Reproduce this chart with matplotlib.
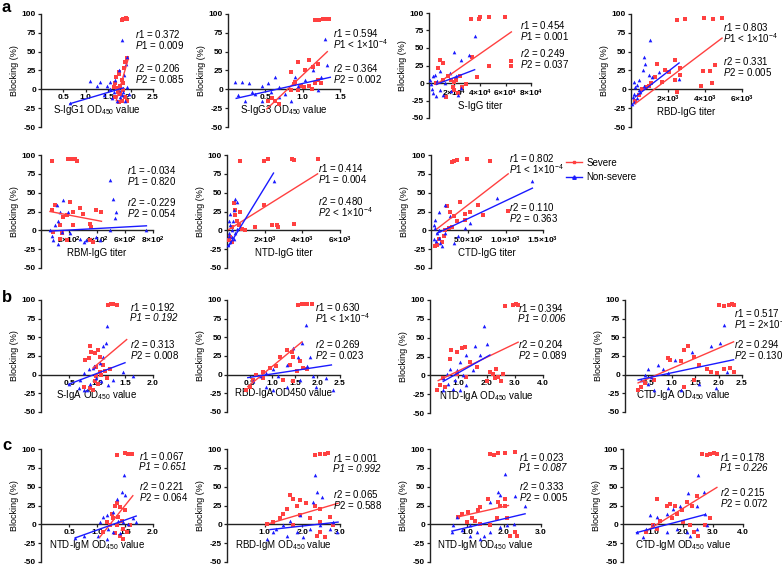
import matplotlib
matplotlib.use("Agg")
import matplotlib.pyplot as plt
from matplotlib.lines import Line2D

W, H = 782, 565
RED = "#ff4040"
BLUE = "#1a1aff"

plt.rcParams["font.family"] = ["Liberation Sans", "DejaVu Sans"]
plt.rcParams["mathtext.fontset"] = "custom"
plt.rcParams["mathtext.rm"] = "Liberation Sans"
plt.rcParams["mathtext.it"] = "Liberation Sans:italic"
plt.rcParams["mathtext.bf"] = "Liberation Sans:bold"
plt.rcParams["mathtext.default"] = "regular"

# ---------------- data ----------------
# panel a1: S-IgG1
p1_red_x = [1.80, 1.83, 1.86, 1.89, 1.91, 1.73, 1.88, 1.93, 1.80, 1.66, 1.69, 1.77, 1.84, 1.88, 1.66, 1.73, 1.80, 1.92, 1.77, 1.62, 1.86, 1.68, 1.75, 1.82, 1.71]
p1_red_y = [92, 93, 94, 95, 94, 23, 36, 41, 12, 8, 2, 5, -1, -10, -10, -17, -15, -15, -6, 3, 28, 16, 20, 9, -3]
p1_blue_x = [1.80, 1.92, 1.90, 1.10, 1.32, 1.54, 1.47, 1.25, 1.66, 1.73, 1.77, 1.69, 1.88, 1.80, 1.62, 1.96, 1.92, 1.40, 1.54, 1.86, 1.73, 0.65, 1.58, 1.83]
p1_blue_y = [66, 43, 34, 11, 10, 10, 5, 4, 12, -1, -10, -15, -15, -8, -4, -6, 3, -8, 1, 19, 25, -18, -12, -3]
p1_red_fit = [(1.68, -15), (1.94, 39)]
p1_blue_fit = [(0.65, -19), (1.84, 2)]
p1_stats = [r"$\mathit{r1}$ = 0.372", r"$\mathit{P1}$ = 0.009", r"$\mathit{r2}$ = 0.206", r"$\mathit{P2}$ = 0.085"]

# panel a2: S-IgG3
p2_red_x = [1.17, 1.22, 1.27, 1.31, 1.35, 0.85, 0.94, 1.08, 1.03, 1.14, 1.21, 0.90, 0.98, 1.08, 1.16, 1.12, 0.85, 0.54, 0.59, 0.63, 0.68, 1.21, 1.25, 0.94, 1.02, 0.88]
p2_red_y = [92, 92, 93, 94, 93, 23, 36, 39, 25, 30, 34, 10, 5, 5, 8, 1, -1, -15, -12, -15, -19, 12, 8, -1, 3, 7]
p2_blue_x = [0.10, 0.19, 0.28, 0.14, 0.23, 0.36, 0.45, 0.54, 0.63, 0.68, 0.77, 0.85, 0.94, 1.03, 1.25, 1.30, 1.32, 1.14, 1.21, 0.68, 0.90, 0.45, 0.32, 0.58]
p2_blue_y = [10, 10, 8, -8, -15, -6, 5, 8, 16, 3, -6, -15, 5, 12, 16, 67, 32, 25, -1, -10, 16, -15, -3, -4]
p2_red_fit = [(0.52, -26), (1.33, 50)]
p2_blue_fit = [(0.11, -12), (1.37, 16)]
p2_stats = [r"$\mathit{r1}$ = 0.594", r"$\mathit{P1}$ < 1×10$^{-4}$", r"$\mathit{r2}$ = 0.364", r"$\mathit{P2}$ = 0.002"]

# panel a3: S-IgG titer
p3_red_x = [32700, 39700, 39000, 46800, 59900, 46800, 64600, 64600, 37600, 34000, 7000, 8400, 11000, 15000, 17500, 18800, 20000, 22700, 13600, 21400, 24000, 29300, 5750, 11000, 19500, 26000]
p3_red_y = [92, 94, 92, 95, 95, 25, 32, 25, 8, 37, 21, 33, 29, 10, 5, -5, -10, -14, -20, 5, 10, -2, 0, 5, 2, -6]
p3_blue_x = [35800, 20000, 31000, 25400, 8400, 3100, 1800, 3100, 5750, 8400, 12300, 16200, 21400, 25400, 22700, 1000, 4400, 17500, 11000, 6500, 2200]
p3_blue_y = [67, 44, 40, 33, 17, 10, -2, -14, -19, -10, 0, 14, 10, -7, -17, 5, 12, -12, -17, 3, -8]
p3_red_fit = [(5750, -2), (64600, 73)]
p3_blue_fit = [(5750, -2), (35800, 19)]
p3_stats = [r"$\mathit{r1}$ = 0.454", r"$\mathit{P1}$ = 0.001", r"$\mathit{r2}$ = 0.249", r"$\mathit{P2}$ = 0.037"]

# panel a4: RBD-IgG titer
p4_red_x = [2490, 2940, 3930, 4430, 4920, 4520, 3900, 4250, 4380, 3780, 2400, 2670, 2400, 1860, 1400, 1320, 950, 600, 410, 230, 1680, 2670, 2490, 2040, 800, 1100]
p4_red_y = [92, 93, 95, 93, 95, 32, 24, 24, 8, 4, 12, 28, 39, 25, 34, 16, 5, 1, -8, -15, 10, 19, -4, 23, 3, 8]
p4_blue_x = [1050, 680, 770, 630, 950, 410, 140, 230, 140, 140, 320, 500, 1140, 2580, 680, 50, 410, 1500, 300, 90]
p4_blue_y = [66, 43, 34, 25, 19, 12, 10, 3, -6, -17, -12, -4, 16, 14, 5, -19, -1, 23, 6, -10]
p4_red_fit = [(230, -19), (4920, 68)]
p4_blue_fit = [(230, -10), (2600, 35)]
p4_stats = [r"$\mathit{r1}$ = 0.803", r"$\mathit{P1}$ < 1×10$^{-4}$", r"$\mathit{r2}$ = 0.331", r"$\mathit{P2}$ = 0.005"]

# panel a5: RBM-IgG titer
p5_red_x = [81, 195, 218, 242, 254, 76, 100, 160, 135, 183, 206, 230, 278, 302, 349, 396, 432, 360, 135, 183, 147, 88, 349, 373, 230]
p5_red_y = [92, 95, 95, 95, 92, 27, 33, 18, 7, 20, 38, 24, 29, 22, 9, 27, 24, 4, -11, -13, -4, -2, -13, -16, 7]
p5_blue_x = [492, 511, 539, 527, 160, 112, 135, 124, 100, 64, 76, 88, 124, 206, 278, 325, 396, 420, 492, 753, 195, 150, 310]
p5_blue_y = [67, 42, 24, 16, 40, 33, 24, 13, 7, 0, -7, -13, -18, -4, -11, -13, -9, -13, 0, 0, 24, -2, -16]
p5_red_fit = [(64, 25), (432, 12)]
p5_blue_fit = [(64, -1), (753, 6)]
p5_stats = [r"$\mathit{r1}$ = -0.034", r"$\mathit{P1}$ = 0.820", r"$\mathit{r2}$ = -0.229", r"$\mathit{P2}$ = 0.054"]

# panel a6: NTD-IgG titer
p6_red_x = [710, 1980, 2200, 3440, 3560, 4810, 1940, 3560, 2650, 2380, 2730, 1500, 970, 440, 350, 530, 260, 790, 180, 260, 90, 620, 410, 700]
p6_red_y = [92, 92, 95, 95, 94, 95, 33, 9, 7, 7, 4, 4, 1, 27, 36, 13, 5, 2, -9, -16, -13, 7, 20, 24]
p6_blue_x = [2470, 440, 530, 350, 180, 90, 180, 260, 90, 180, 350, 440, 50, 300, 530, 120, 240]
p6_blue_y = [66, 42, 38, 27, 22, 13, 7, 0, -7, -16, -11, -4, -20, 13, 2, -3, -9]
p6_red_fit = [(90, 1), (4810, 75)]
p6_blue_fit = [(90, -21), (2470, 76)]
p6_stats = [r"$\mathit{r1}$ = 0.414", r"$\mathit{P1}$ = 0.004", r"$\mathit{r2}$ = 0.480", r"$\mathit{P2}$ < 1×10$^{-4}$"]

# panel a7: CTD-IgG titer
p7_red_x = [280, 310, 346, 479, 790, 382, 1034, 701, 635, 524, 457, 457, 346, 280, 235, 191, 169, 102, 80, 146, 213, 257, 58, 302]
p7_red_y = [91, 92, 94, 95, 92, 37, 26, 21, 33, 25, 22, 14, 12, 5, 3, 1, -8, -12, -19, -15, 32, 25, -21, 19]
p7_blue_x = [1358, 888, 524, 457, 191, 102, 58, 36, 58, 80, 102, 124, 146, 191, 302, 368, 257, 36, 70, 110]
p7_blue_y = [66, 43, 10, 3, 33, 25, 14, 7, 3, -4, -10, -17, -21, -4, -17, -8, 19, -12, -14, 0]
p7_red_fit = [(80, 2), (1034, 75)]
p7_blue_fit = [(80, -4), (1358, 56)]
p7_stats = [r"$\mathit{r1}$ = 0.802", r"$\mathit{P1}$ < 1×10$^{-4}$", r"$\mathit{r2}$ = 0.110", r"$\mathit{P2}$ = 0.363"]

# panel b1: S-IgA
p9_red_x = [1.20, 1.25, 1.29, 1.35, 0.88, 0.90, 0.96, 0.85, 0.79, 1.05, 1.11, 1.23, 1.05, 0.99, 0.96, 1.02, 0.93, 0.88, 0.76, 1.17, 1.08, 1.02, 1.14, 0.98]
p9_red_y = [93, 94, 95, 93, 38, 31, 29, 22, 20, 24, 13, 7, 4, -2, -9, -13, -20, -18, -16, -4, 0, 33, 5, 10]
p9_blue_x = [1.18, 1.16, 1.11, 1.11, 1.05, 0.93, 0.85, 0.76, 0.70, 0.67, 0.76, 0.88, 1.08, 1.29, 1.47, 1.64, 0.82, 0.99, 0.50, 0.95, 1.20]
p9_blue_y = [65, 42, 38, 24, 16, 9, 7, 2, -7, -18, -20, -13, -9, -7, 4, -2, -20, -4, -12, 12, -14]
p9_red_fit = [(0.93, 9), (1.53, 47)]
p9_blue_fit = [(0.49, -13), (1.50, 16)]
# a line without "$" is set fully in italics
p9_stats = [r"$\mathit{r1}$ = 0.192", "P1 = 0.192", r"$\mathit{r2}$ = 0.313", r"$\mathit{P2}$ = 0.008"]

# panel b2: RBD-IgA
p10_red_x = [1.58, 1.65, 1.70, 1.76, 1.87, 1.32, 1.43, 1.17, 1.46, 1.61, 1.39, 1.69, 1.76, 1.09, 0.95, 0.80, 0.65, 0.58, 0.50, 0.43, 1.24, 1.46, 0.80, 1.55]
p10_red_y = [93, 95, 94, 95, 94, 33, 31, 24, 24, 18, 13, 9, 7, 11, 9, 4, 0, -7, -16, -20, -7, -9, -4, 5]
p10_blue_x = [1.75, 1.65, 1.46, 1.58, 1.83, 1.32, 1.76, 1.02, 0.87, 0.72, 0.58, 0.87, 1.02, 1.32, 1.61, 1.91, 2.35, 1.98, 2.20, 1.13]
p10_blue_y = [66, 42, 36, 24, 24, 13, 11, 7, 2, -2, -9, -16, -20, -16, -7, -2, -20, -16, -4, -2]
p10_red_fit = [(0.46, -16), (1.66, 44)]
p10_blue_fit = [(0.46, -4), (2.31, 13)]
p10_stats = [r"$\mathit{r1}$ = 0.630", r"$\mathit{P1}$ < 1×10$^{-4}$", r"$\mathit{r2}$ = 0.269", r"$\mathit{P2}$ = 0.023"]

# panel b3: NTD-IgA
p11_red_x = [2.65, 2.94, 3.06, 3.12, 0.76, 0.94, 1.12, 1.24, 0.71, 1.41, 1.65, 2.12, 2.29, 2.41, 2.53, 2.59, 2.35, 0.35, 0.24, 0.47, 0.94, 0.53, 1.29, 2.00, 2.24]
p11_red_y = [92, 93, 95, 93, 33, 31, 36, 38, 22, 18, 11, 4, -4, -2, -7, 2, 9, -13, -19, -4, 2, -16, -2, -7, 2]
p11_blue_x = [1.92, 2.00, 1.59, 1.76, 1.29, 1.06, 0.94, 0.71, 0.59, 0.47, 0.65, 0.82, 1.06, 1.29, 0.47, 1.18, 1.53, 0.88]
p11_blue_y = [66, 42, 39, 27, 27, 18, 7, 9, 2, -4, -11, -18, -20, -13, -20, 0, 7, -6]
p11_red_fit = [(0.29, -7), (3.12, 44)]
p11_blue_fit = [(0.47, -8), (2.12, 27)]
p11_stats = [r"$\mathit{r1}$ = 0.394", "P1 = 0.006", r"$\mathit{r2}$ = 0.204", r"$\mathit{P2}$ = 0.089"]

# panel b4: CTD-IgA
p12_red_x = [2.00, 2.11, 2.22, 2.29, 2.32, 0.92, 0.96, 1.27, 1.34, 1.20, 1.48, 1.58, 1.76, 1.83, 1.97, 2.11, 2.25, 2.32, 0.35, 0.28, 0.42, 0.63, 1.48, 1.27]
p12_red_y = [93, 92, 93, 95, 93, 22, 20, 33, 38, 18, 24, 13, 7, 4, 2, 7, 9, 4, -16, -20, -11, -7, -7, -16]
p12_blue_x = [2.11, 2.04, 1.83, 1.44, 1.06, 0.81, 0.70, 0.42, 0.35, 0.49, 0.63, 0.92, 1.20, 1.58, 1.94, 2.18, 0.92, 0.49, 0.56]
p12_blue_y = [66, 42, 39, 31, 20, 7, 13, 0, -7, -13, -20, -18, -20, -13, -18, 4, 2, 7, -3]
p12_red_fit = [(0.28, -11), (2.32, 44)]
p12_blue_fit = [(0.28, -7), (2.32, 20)]
p12_stats = [r"$\mathit{r1}$ = 0.517", r"$\mathit{P1}$ = 2×10$^{-4}$", r"$\mathit{r2}$ = 0.294", r"$\mathit{P2}$ = 0.130"]

# panel c1: NTD-IgM
p13_red_x = [1.36, 1.50, 1.56, 1.62, 1.35, 1.32, 1.41, 1.26, 1.29, 1.38, 1.44, 1.17, 1.23, 1.35, 1.47, 1.53, 1.41, 1.47, 1.32, 1.59, 1.11, 1.50]
p13_red_y = [92, 95, 94, 94, 28, 25, 23, 14, 8, 10, 5, 3, -1, -1, -6, -10, -15, -19, -12, -1, -10, 19]
p13_blue_x = [1.48, 1.44, 1.50, 1.35, 1.11, 1.05, 1.17, 1.29, 1.38, 1.47, 1.56, 1.64, 1.70, 1.20, 1.29, 1.41, 1.02, 0.76, 1.17, 0.61]
p13_blue_y = [66, 43, 39, 34, 10, 3, 12, 16, 5, 3, 1, 8, 3, -6, -10, -12, -15, -15, -19, -18]
p13_red_fit = [(1.05, -17), (1.64, 38)]
p13_blue_fit = [(0.61, -18), (1.70, 11)]
p13_stats = [r"$\mathit{r1}$ = 0.067", "P1 = 0.651", r"$\mathit{r2}$ = 0.221", r"$\mathit{P2}$ = 0.064"]

# panel c2: RBD-IgM
p14_red_x = [2.33, 2.47, 2.60, 2.69, 1.67, 1.76, 1.93, 2.11, 2.33, 2.47, 1.85, 1.58, 1.49, 1.40, 1.22, 1.93, 2.20, 2.47, 2.73, 2.82, 2.47, 2.60, 2.38, 1.76, 1.05]
p14_red_y = [92, 93, 94, 95, 39, 34, 32, 28, 25, 21, 25, 21, 14, 8, 3, 12, 8, 3, 10, -1, -10, -17, -15, -1, 0]
p14_blue_x = [2.33, 2.38, 2.51, 2.29, 1.93, 1.67, 1.49, 1.31, 1.22, 1.58, 1.85, 2.02, 2.20, 2.47, 2.73, 2.82, 2.91, 1.05]
p14_blue_y = [66, 43, 36, 30, 12, 5, -1, -6, -10, -15, -10, -17, -6, -1, -6, 3, -10, -19]
p14_red_fit = [(1.05, 0), (2.95, 28)]
p14_blue_fit = [(1.14, -7), (2.95, 3)]
p14_stats = [r"$\mathit{r1}$ = 0.001", "P1 = 0.992", r"$\mathit{r2}$ = 0.065", r"$\mathit{P2}$ = 0.588"]

# panel c3: NTD-IgM (second)
p15_red_x = [1.61, 1.72, 1.85, 2.03, 2.30, 1.58, 1.85, 2.03, 1.90, 2.03, 1.36, 1.31, 1.04, 0.86, 1.13, 1.22, 1.36, 1.63, 1.81, 2.08, 2.17, 2.35, 2.30, 0.99, 0.77]
p15_red_y = [94, 92, 95, 95, 96, 34, 30, 33, 25, 25, 23, 19, 17, 14, 8, 5, 1, -1, 8, 8, -15, -15, -10, 3, 10]
p15_blue_x = [2.03, 1.85, 1.90, 1.63, 2.30, 2.57, 0.72, 0.63, 0.59, 0.86, 1.08, 1.26, 1.45, 1.63, 1.90, 2.08, 2.26, 1.36, 1.08]
p15_blue_y = [67, 43, 39, 30, 37, 24, 10, -1, -10, -8, -1, -10, -15, -10, -4, -1, 1, -19, -15]
p15_red_fit = [(0.77, 10), (2.12, 25)]
p15_blue_fit = [(0.59, -9), (2.57, 14)]
p15_stats = [r"$\mathit{r1}$ = 0.023", "P1 = 0.087", r"$\mathit{r2}$ = 0.333", r"$\mathit{P2}$ = 0.005"]

# panel c4: CTD-IgM
p16_red_x = [2.63, 2.79, 2.91, 3.02, 3.13, 1.12, 1.45, 1.56, 1.73, 1.96, 2.12, 2.29, 2.46, 1.79, 1.62, 1.23, 1.01, 1.12, 0.78, 2.01, 2.23, 2.35, 2.51, 2.91, 2.74]
p16_red_y = [93, 92, 94, 95, 94, 34, 25, 27, 25, 19, 30, 25, 37, 14, 8, 5, -1, -6, -10, 3, -1, -10, -15, 8, -1]
p16_blue_x = [2.51, 2.70, 2.46, 2.18, 1.90, 1.68, 1.45, 1.12, 0.89, 1.01, 0.78, 0.45, 0.67, 1.45, 1.79, 2.12, 2.46, 2.79, 2.74, 2.23]
p16_blue_y = [66, 43, 25, 41, 25, 21, 14, 10, 12, -1, -6, -10, -17, -10, -6, -10, -6, -1, 14, -15]
p16_red_fit = [(0.73, -10), (3.13, 49)]
p16_blue_fit = [(0.45, -11), (2.74, 13)]
p16_stats = [r"$\mathit{r1}$ = 0.178", "P1 = 0.226", r"$\mathit{r2}$ = 0.215", r"$\mathit{P2}$ = 0.072"]

y_ticks = [-50, -25, 0, 25, 50, 75, 100]

od_ticks_25 = [0.5, 1.0, 1.5, 2.0, 2.5]
od_ticks_15 = [0.5, 1.0, 1.5]
od_ticks_20 = [0.5, 1.0, 1.5, 2.0]
od_ticks_30 = [1.0, 2.0, 3.0]
od_ticks_40 = [1.0, 2.0, 3.0, 4.0]


def od_labels(ticks):
    return [f"{t:.1f}" for t in ticks]


# panel no, axes box in pixels (x0, x1, ytop, ybot), xmax, xticks, xticklabels, xlabel, stats pos (x, y_r1, y_r2)
PANELS = [
    (1, (41, 153, 14, 127), 2.5, od_ticks_25, od_labels(od_ticks_25), "S-IgG1 OD$_{450}$ value", (135, 34, 68)),
    (2, (228, 340, 14, 127), 1.5, od_ticks_15, od_labels(od_ticks_15), "S-IgG3 OD$_{450}$ value", (333, 33, 68)),
    (3, (429, 531, 13, 118), 80000, [20000, 40000, 60000, 80000],
     ["2×10$^4$", "4×10$^4$", "6×10$^4$", "8×10$^4$"], "S-IgG titer", (520, 25, 53)),
    (4, (631, 742, 14, 127), 6000, [2000, 4000, 6000],
     ["2×10$^3$", "4×10$^3$", "6×10$^3$"], "RBD-IgG titer", (723, 27, 61)),
    (5, (41, 153, 155, 268), 800, [200, 400, 600, 800],
     ["2×10$^2$", "4×10$^2$", "6×10$^2$", "8×10$^2$"], "RBM-IgG titer", (127, 170, 202)),
    (6, (227, 340, 155, 268), 6000, [2000, 4000, 6000],
     ["2×10$^3$", "4×10$^3$", "6×10$^3$"], "NTD-IgG titer", (318, 168, 201)),
    (7, (431, 543, 155, 268), 1500, [500, 1000, 1500],
     ["5.0×10$^2$", "1.0×10$^3$", "1.5×10$^3$"], "CTD-IgG titer", (509, 158, 207)),
    (9, (41, 153, 300, 412), 2.0, od_ticks_20, od_labels(od_ticks_20), "S-IgA OD$_{450}$ value", (130, 307, 344)),
    (10, (227, 340, 300, 412), 2.5, od_ticks_25, od_labels(od_ticks_25), "RBD-IgA OD450 value", (315, 307, 344)),
    (11, (430, 543, 300, 413), 4.0, od_ticks_40, od_labels(od_ticks_40), "NTD-IgA OD$_{450}$ value", (518, 308, 344)),
    (12, (625, 742, 300, 412), 2.5, od_ticks_25, od_labels(od_ticks_25), "CTD-IgA OD$_{450}$ value", (734, 313, 344)),
    (13, (41, 153, 449, 562), 2.0, od_ticks_20, od_labels(od_ticks_20), "NTD-IgM OD$_{450}$ value", (139, 456, 486)),
    (14, (227, 340, 449, 562), 3.0, od_ticks_30, od_labels(od_ticks_30), "RBD-IgM OD$_{450}$ value", (333, 458, 494)),
    (15, (430, 541, 449, 562), 3.0, od_ticks_30, od_labels(od_ticks_30), "NTD-IgM OD$_{450}$ value", (519, 457, 486)),
    (16, (623, 743, 449, 562), 4.0, od_ticks_40, od_labels(od_ticks_40), "CTD-IgM OD$_{450}$ value", (720, 457, 492)),
]


def panel_ciz(fig, n, box, xmax, xticks, xticklabels, xlabel, stat_pos):
    g = globals()
    red_x, red_y = g[f"p{n}_red_x"], g[f"p{n}_red_y"]
    blue_x, blue_y = g[f"p{n}_blue_x"], g[f"p{n}_blue_y"]
    red_fit, blue_fit = g[f"p{n}_red_fit"], g[f"p{n}_blue_fit"]
    stats = g[f"p{n}_stats"]

    x0, x1, ytop, ybot = box
    ax = fig.add_axes([x0 / W, 1 - ybot / H, (x1 - x0) / W, (ybot - ytop) / H])
    ax.set_xlim(0, xmax)
    ax.set_ylim(-50, 100)

    ax.scatter(red_x, red_y, s=5, marker="s", color=RED, linewidths=0, zorder=3, clip_on=False)
    ax.scatter(blue_x, blue_y, s=7, marker="^", color=BLUE, linewidths=0, zorder=3, clip_on=False)
    ax.plot([p[0] for p in red_fit], [p[1] for p in red_fit], color=RED, lw=1.0, zorder=4)
    ax.plot([p[0] for p in blue_fit], [p[1] for p in blue_fit], color=BLUE, lw=1.0, zorder=4)

    for s in ("top", "right"):
        ax.spines[s].set_visible(False)
    ax.spines["bottom"].set_position(("data", 0))
    for s in ("bottom", "left"):
        ax.spines[s].set_linewidth(1.0)
        ax.spines[s].set_color("#222222")

    ax.set_yticks(y_ticks)
    ax.set_yticklabels([str(v) for v in y_ticks])
    ax.set_xticks(xticks)
    ax.set_xticklabels(xticklabels)
    ax.tick_params(axis="both", length=2.5, width=0.9, color="#222222", labelsize=6, pad=1)
    for lbl in ax.get_xticklabels() + ax.get_yticklabels():
        lbl.set_fontweight("bold")

    ax.set_xlabel(xlabel, fontsize=7, labelpad=1)
    ax.set_ylabel("Blocking (%)", fontsize=6.5, labelpad=2)

    sx, y1, y2 = stat_pos
    for text, ypix in zip(stats, [y1, y1 + 11, y2, y2 + 11]):
        style = "normal" if "$" in text else "italic"
        fig.text(sx / W, 1 - ypix / H, text, fontsize=7, style=style, ha="left", va="center")
    return ax


fig = plt.figure(figsize=(W / 100, H / 100), dpi=100)
fig.patch.set_facecolor("white")

for n, box, xmax, xt, xtl, xl, sp in PANELS:
    panel_ciz(fig, n, box, xmax, xt, xtl, xl, sp)

for harf, ypix in (("a", 8), ("b", 297), ("c", 446)):
    fig.text(2 / W, 1 - ypix / H, harf, fontsize=12, fontweight="bold", va="center", ha="left")

handles = [
    Line2D([0], [0], color=RED, lw=1, marker="s", markersize=2, label="Severe"),
    Line2D([0], [0], color=BLUE, lw=1, marker="^", markersize=2.5, label="Non-severe"),
]
fig.legend(handles=handles, loc="center left", bbox_to_anchor=(566 / W, 1 - 170 / H),
           frameon=False, fontsize=7, handlelength=1.6, handletextpad=0.5, labelspacing=0.45,
           borderaxespad=0, borderpad=0)

fig.savefig("out.png", dpi=100)
plt.close(fig)
